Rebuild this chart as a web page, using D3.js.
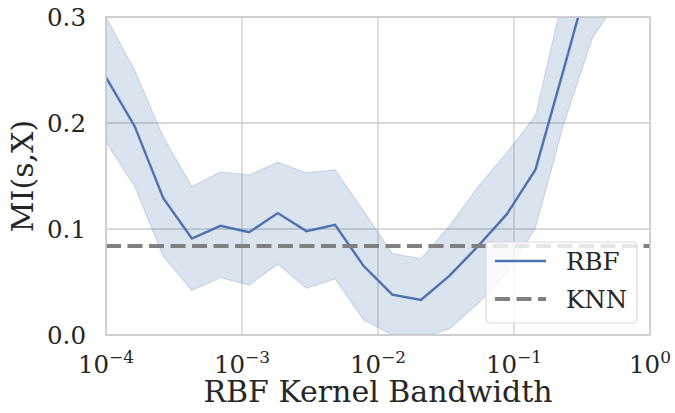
<!DOCTYPE html>
<html>
<head>
<meta charset="utf-8">
<script src="https://cdn.jsdelivr.net/npm/d3@7"></script>
<style>
  body { margin: 0; background: #fff; }
  svg { display: block; }
  text { font-family: "DejaVu Serif", serif; fill: #262626; }
</style>
</head>
<body>
<svg id="chart" width="675" height="413"></svg>
<script>
// kernel bandwidths (log spaced)
var bandwidths = [1.000e-4, 1.624e-4, 2.637e-4, 4.281e-4, 6.952e-4, 1.129e-3, 1.833e-3,
  2.976e-3, 4.833e-3, 7.848e-3, 1.274e-2, 2.069e-2, 3.360e-2, 5.456e-2, 8.859e-2,
  1.438e-1, 2.336e-1, 3.793e-1, 6.158e-1, 1.000];

// RBF mean and band (upper / lower)
var rbfMean = [0.243, 0.197, 0.129, 0.091, 0.103, 0.097, 0.115, 0.098, 0.104, 0.065,
  0.038, 0.033, 0.056, 0.084, 0.114, 0.156, 0.252, 0.35, 0.45, 0.52];
var rbfUpper = [0.300, 0.250, 0.187, 0.140, 0.154, 0.151, 0.163, 0.153, 0.156, 0.117,
  0.077, 0.072, 0.103, 0.140, 0.172, 0.207, 0.324, 0.42, 0.50, 0.58];
var rbfLower = [0.182, 0.140, 0.074, 0.042, 0.054, 0.047, 0.067, 0.044, 0.053, 0.014,
  0.000, -0.003, 0.006, 0.030, 0.058, 0.101, 0.200, 0.281, 0.32, 0.38];

var knnValue = 0.084;

var xTicks = [1e-4, 1e-3, 1e-2, 1e-1, 1e0];
var xTickExp = ["\u22124", "\u22123", "\u22122", "\u22121", "0"];
var yTicks = [0.0, 0.1, 0.2, 0.3];

var blue = "#4c72b0";
var gridCol = "#cccccc";

var svg = d3.select("#chart");
var pL = 106, pR = 650, pT = 17, pB = 335;

var x = d3.scaleLog().domain([1e-4, 1]).range([pL, pR]);
var y = d3.scaleLinear().domain([0, 0.3]).range([pB, pT]);

svg.append("clipPath").attr("id", "plotclip")
  .append("rect").attr("x", pL).attr("y", pT)
  .attr("width", pR - pL).attr("height", pB - pT);

// grid
var grid = svg.append("g");
grid.selectAll(".gx").data(xTicks).enter().append("line")
  .attr("x1", function(d) { return x(d); }).attr("x2", function(d) { return x(d); })
  .attr("y1", pT).attr("y2", pB)
  .attr("stroke", gridCol).attr("stroke-width", 1.3);
grid.selectAll(".gy").data(yTicks).enter().append("line")
  .attr("y1", function(d) { return y(d); }).attr("y2", function(d) { return y(d); })
  .attr("x1", pL).attr("x2", pR)
  .attr("stroke", gridCol).attr("stroke-width", 1.3);

var plot = svg.append("g").attr("clip-path", "url(#plotclip)");

var idx = d3.range(bandwidths.length);

var area = d3.area()
  .x(function(i) { return x(bandwidths[i]); })
  .y0(function(i) { return y(rbfLower[i]); })
  .y1(function(i) { return y(rbfUpper[i]); });

plot.append("path").datum(idx)
  .attr("d", area)
  .attr("fill", blue).attr("fill-opacity", 0.2)
  .attr("stroke", blue).attr("stroke-opacity", 0.2).attr("stroke-width", 1.2);

var line = d3.line()
  .x(function(i) { return x(bandwidths[i]); })
  .y(function(i) { return y(rbfMean[i]); });

plot.append("path").datum(idx)
  .attr("d", line)
  .attr("fill", "none").attr("stroke", blue).attr("stroke-width", 2.4);

plot.append("line")
  .attr("x1", pL).attr("x2", pR)
  .attr("y1", y(knnValue)).attr("y2", y(knnValue))
  .attr("stroke", "#808080").attr("stroke-width", 4)
  .attr("stroke-dasharray", "15,6.5");

// spines
svg.append("rect").attr("x", pL).attr("y", pT)
  .attr("width", pR - pL).attr("height", pB - pT)
  .attr("fill", "none").attr("stroke", gridCol).attr("stroke-width", 1.6);

// y ticks
svg.selectAll(".ytl").data(yTicks).enter().append("text")
  .attr("x", pL - 20).attr("y", function(d) { return y(d); })
  .attr("dy", "0.36em")
  .attr("text-anchor", "end").attr("font-size", 24.5)
  .text(function(d) { return d.toFixed(1); });

// x ticks with superscripts
var xt = svg.selectAll(".xtl").data(xTicks).enter().append("text")
  .attr("x", function(d) { return x(d); }).attr("y", 373)
  .attr("text-anchor", "middle").attr("font-size", 24.5);
xt.append("tspan").text("10");
xt.append("tspan").attr("font-size", 17).attr("dy", -10)
  .text(function(d, i) { return xTickExp[i]; });

// axis labels
svg.append("text").attr("x", (pL + pR) / 2).attr("y", 402)
  .attr("text-anchor", "middle").attr("font-size", 30)
  .text("RBF Kernel Bandwidth");

svg.append("text")
  .attr("transform", "translate(33," + ((pT + pB) / 2) + ") rotate(-90)")
  .attr("text-anchor", "middle").attr("font-size", 30)
  .text("MI(s,X)");

// legend
var lg = svg.append("g");
lg.append("rect").attr("x", 486).attr("y", 242).attr("width", 151).attr("height", 81)
  .attr("rx", 4).attr("fill", "#fff").attr("fill-opacity", 0.8)
  .attr("stroke", "#d9d9d9").attr("stroke-width", 1.2);
lg.append("line").attr("x1", 495).attr("x2", 546).attr("y1", 261).attr("y2", 261)
  .attr("stroke", blue).attr("stroke-width", 2.4);
lg.append("line").attr("x1", 495).attr("x2", 546).attr("y1", 299).attr("y2", 299)
  .attr("stroke", "#808080").attr("stroke-width", 4).attr("stroke-dasharray", "15,6.5");
lg.append("text").attr("x", 566).attr("y", 261).attr("dy", "0.36em")
  .attr("font-size", 24.5).text("RBF");
lg.append("text").attr("x", 566).attr("y", 299).attr("dy", "0.36em")
  .attr("font-size", 24.5).text("KNN");
</script>
</body>
</html>
